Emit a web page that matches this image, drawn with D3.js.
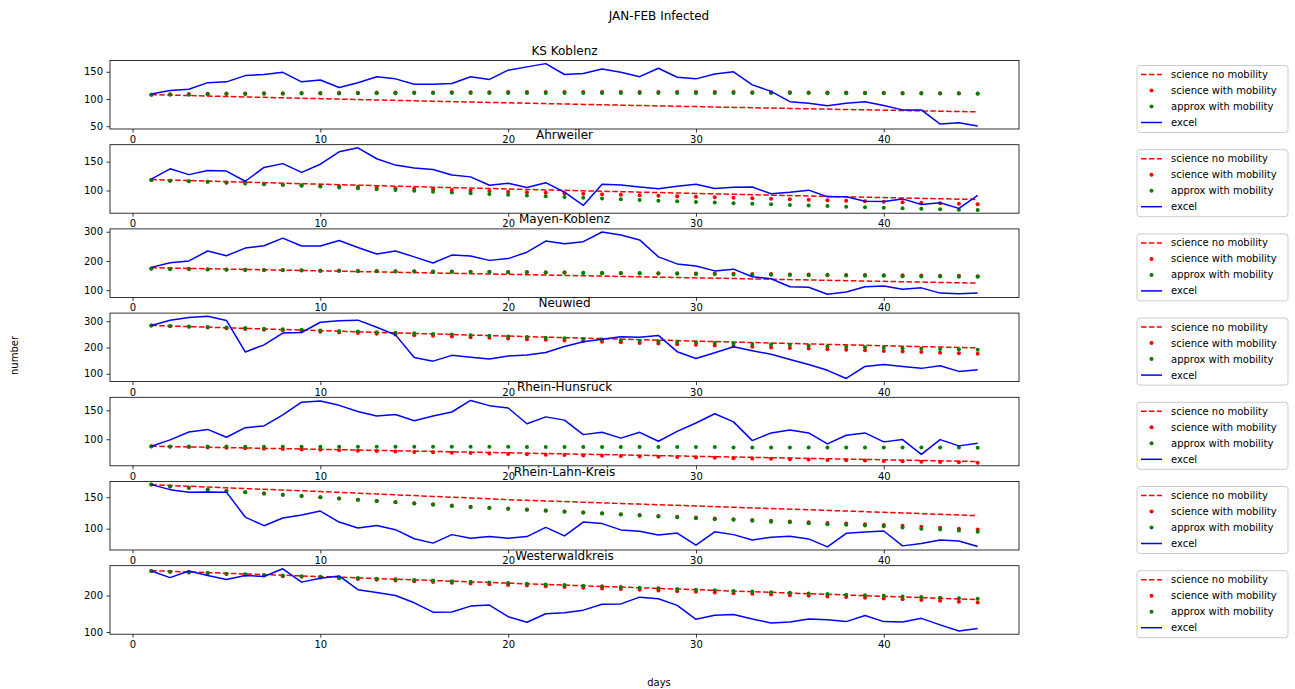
<!DOCTYPE html>
<html>
<head>
<meta charset="utf-8">
<script src="https://cdn.jsdelivr.net/npm/d3@7"></script>
<style>
  body { margin: 0; background: #fff; }
  svg text { font-family: "DejaVu Sans", sans-serif; fill: #000; }
</style>
</head>
<body>
<div id="chart"></div>
<script>
var config = {
  "width": 1295,
  "height": 689,
  "left": 110,
  "right": 1019,
  "firstTop": 60.5,
  "step": 84.2,
  "panelHeight": 68.5
}

const days = [1,2,3,4,5,6,7,8,9,10,11,12,13,14,15,16,17,18,19,20,21,22,23,24,25,26,27,28,29,30,31,32,33,34,35,36,37,38,39,40,41,42,43,44,45];
const xTicks = [0, 10, 20, 30, 40];
const seriesNames = ["science no mobility", "science with mobility", "approx with mobility", "excel"];

// KS Koblenz
const koblenzNoMob = [108,107.2,106.3,105.5,104.6,103.8,103,102.2,101.4,100.6,99.8,99,98.2,97.5,96.7,96,95.2,94.5,93.7,93,92.3,91.5,90.8,90.1,89.4,88.7,88,87.3,86.6,86,85.3,84.6,84,83.3,82.7,82,81.4,80.7,80.1,79.5,78.9,78.2,77.6,77,76.4];
const koblenzSciMob = [108,108.5,109,109.5,110,110,110.5,110.5,111,111,111.5,111.5,112,112,112,112,112.5,112.5,112.5,113,113,113,113,113,113,113,113,113,113,113,113,113,112.5,112.5,112.5,112,112,112,111.5,111.5,111,111,110.5,110.5,110];
const koblenzApprox = [108,108,108,108.5,109,109,109.5,109.5,110,110,110,110.5,110.5,110.5,111,111,111,111,111,111,111,111,111,111,111,111,111,111,111,111,111,111,111,111,111,111,110.5,110.5,110.5,110.5,110,110,110,110,109.5];
const koblenzExcel = [109,115.5,118,130,131.5,143,145,149,131.5,135,121,130,141,137,127,127,128.5,141,136,153,159,165,145,147,155,149,141,156.5,140,137,146,150,126,114,95,92,87.5,92,95,88,80,80,54,56.5,50.6];
const koblenzTicks = [50, 100, 150];

// Ahrweiler
const ahrNoMob = [119,118.1,117.2,116.3,115.4,114.5,113.6,112.7,111.8,111,110.1,109.2,108.4,107.5,106.7,105.8,105,104.2,103.4,102.6,101.8,101,100.2,99.4,98.7,97.9,97.1,96.4,95.6,94.9,94.1,93.4,92.7,91.9,91.2,90.5,89.8,89.1,88.4,87.7,87,86.3,85.7,85,84.3];
const ahrSciMob = [118,117,116,115,114,112.8,111.6,110.4,109.2,108,107,106,105,104,103,102,101,100,99,98,97.1,96.2,95.3,94.4,93.5,92.6,91.7,90.8,89.9,89,88.2,87.4,86.6,85.8,85,84.1,83.2,82.3,81.4,80.5,79.6,78.7,77.8,76.9,76];
const ahrApprox = [118,117,116,115,113.5,112,110.7,109.4,108,106.7,105.2,103.7,102.2,100.8,99.4,98,96.7,95.4,94,92.7,91.3,90,88.6,87.3,86,84.8,83.6,82.4,81.2,80,79,78,77,76,75,74,73,72,71,70,69.2,68.4,67.6,66.8,66];
const ahrExcel = [119.7,137.6,127.5,134.8,133.7,116,140,146.6,131.5,145.5,167,174,155,144,139,136.5,127,123.6,109,112.4,105,113.5,97,74,111,109.5,106,103,107.3,110.7,103.4,105.6,106,94.4,97,100.6,89,89,81.5,81,85.4,75.8,78.6,69,91.6];
const ahrTicks = [100, 150];

// Mayen-Koblenz
const mayenNoMob = [177,175.8,174.6,173.4,172.2,171,169.8,168.6,167.4,166.2,165,163.8,162.6,161.4,160.2,159,157.8,156.6,155.4,154.2,153,151.8,150.6,149.4,148.2,147,145.8,144.6,143.4,142.2,141,139.8,138.6,137.4,136.2,135,133.8,132.6,131.4,130.2,129,127.8,126.6,125.4,124.2];
const mayenSciMob = [174,173,173,172,171,170,169,169,168,167,167,166,166,165,165,164,164,163,163,162,162,161,161,160,160,159,159,158,158,157,157,156,155,155,154,154,153,152,152,151,151,150,149,149,148];
const mayenApprox = [173,172,172,171,170,169,168,168,167,166,166,165,165,164,164,163,163,162,162,161,161,160,160,159,158,158,157,157,156,155,155,154,153,153,152,151,151,150,149,149,148,147,147,146,146];
const mayenExcel = [178,194,200,234,218,244,252,278,251,251,270,246,224,234,214,193,220,217,202,208,230,268,259,266,299,289,272,214,190,183,166,172,146,139,112,110,86,94,112,114,103,108,90,88,90];
const mayenTicks = [100, 200, 300];

// Neuwied
const neuwiedNoMob = [284,281.8,279.5,277.3,275,272.8,270.6,268.4,266.2,264,261.9,259.8,257.7,255.6,253.5,251.5,249.4,247.4,245.4,243.4,241.4,239.5,237.5,235.6,233.7,231.8,229.9,228,226.2,224.3,222.5,220.7,218.9,217.1,215.3,213.6,211.8,210.1,208.4,206.7,205,203.3,201.7,200,198.4];
const neuwiedSciMob = [284,281,278.5,276,273,270.4,267.8,265.2,262.6,260,257.4,254.8,252.2,249.6,247,244.4,241.8,239.2,236.6,234,231.6,229.2,226.8,224.4,222,219.6,217.2,214.8,212.4,210,207.6,205.2,202.8,200.4,198,195.8,193.6,191.4,189.2,187,184.8,182.6,180.4,178.2,176];
const neuwiedApprox = [284,282,280,278,276,273.8,271.6,269.4,267.2,265,262.8,260.6,258.4,256.2,254,251.6,249.2,246.8,244.4,242,239.6,237.2,234.8,232.4,230,227.8,225.6,223.4,221.2,219,217,215,213,211,209,207,205,203,201,199,197.4,195.8,194.2,192.6,191];
const neuwiedExcel = [284,304,314,319,303,183,210,255,257,296,302,304,277,248,161.5,148,170,163,156.5,168,171,181,204,222,231,241,238.5,246,184,158,180,202.5,187.6,174,154,135,113,82,128,135,128,120.5,130.4,109,115.5];
const neuwiedTicks = [100, 200, 300];

// Rhein-Hunsrück
const hunsNoMob = [88,87.4,86.8,86.2,85.6,85,84.4,83.8,83.2,82.6,82,81.4,80.8,80.2,79.6,79,78.4,77.8,77.2,76.6,76,75.4,74.8,74.2,73.6,73,72.4,71.8,71.2,70.6,70,69.4,68.8,68.2,67.6,67,66.4,65.8,65.2,64.6,64,63.4,62.8,62.2,61.6];
const hunsSciMob = [88,87.3,86.6,85.9,85.2,84.5,83.8,83.1,82.4,81.7,81,80.3,79.6,78.9,78.2,77.5,76.8,76.1,75.4,74.7,74,73.4,72.8,72.2,71.6,71,70.4,69.8,69.2,68.6,68,67.4,66.8,66.2,65.6,65,64.4,63.8,63.2,62.6,62,61.4,60.8,60.2,59.6];
const hunsApprox = [87.5,87.5,87.5,87.5,87.5,87,87,87,87,87,87,87,87,87,87,87,87,87,87,87,86.5,86.5,86.5,86.5,86.5,86.5,86.5,86.5,86.5,86.5,86.5,86,86,86,86,86,86,86,86,86,86,86,86,86,85.5];
const hunsExcel = [88,99,112.5,117,103.4,120,123,142,164,166,158.5,148,140,142.6,132,140,147,167,158,154,126.7,138.6,133,108,112,102,112,96.6,113.6,128,144,130,97.7,111,116,111,92,107,111,95.5,99.4,74,99.4,88.6,93];
const hunsTicks = [100, 150];

// Rhein-Lahn-Kreis
const lahnNoMob = [170,168.7,167.4,166.1,164.9,163.7,162.5,161.3,160.1,159,157.7,156.4,155.1,153.8,152.5,151.2,150,148.8,147.4,146,145,144,143,142,141,140,139,138,137,136,135,134,133,132,131,130,129,128,127,126,125,123.9,122.8,121.7,120.6];
const lahnSciMob = [170,167,165,162,160,158,156,154,152,150,148,146,144,142.2,140.4,138.6,136.8,135,133.4,131.8,130.3,128.8,127.3,125.8,124.4,123,121.6,120.2,118.9,117.6,116.3,115,113.8,112.6,111.4,110.2,109.1,108,106.9,105.8,104.5,103.2,101.5,100,98.5];
const lahnApprox = [170,167,165,162,160,158,156,154,152,150,148,146,144,142,140,138,136,134.5,133,131.5,130,128.5,127,125.5,124,122.5,121,119.5,118,116.5,115,114,112.5,111,110,108.5,107,106,105,104,102,100,98.5,97,95];
const lahnExcel = [170,162,158,158.4,158,118.4,104.7,117,121.6,128,110.5,101,105,98.4,84,77,90.5,84.7,87.4,84.7,87.4,102,88.4,110.5,108,98,96,90,93,73.7,95,90.5,82,86.3,88,83.7,71,92.6,94.7,96.3,72.6,76.3,82,80.5,71.6];
const lahnTicks = [100, 150];

// Westerwaldkreis
const westNoMob = [268,266.2,264.4,262.6,260.8,259,257.2,255.4,253.6,251.8,250,248.2,246.4,244.6,242.8,241,239.2,237.4,235.6,233.8,232,230.2,228.4,226.6,224.8,223,221.2,219.4,217.6,215.8,214,212.2,210.4,208.6,206.8,205,203.2,201.4,199.6,197.8,196,194.2,192.4,190.6,188.8];
const westSciMob = [267,265,263,261,259,257,255,253,251,249,247,245,243,241,239,237,235,233,231,229,227.1,225.2,223.3,221.4,219.5,217.6,215.7,213.8,211.9,210,208.2,206.4,204.6,202.8,201,199.2,197.4,195.6,193.8,192,189.8,187.6,185.4,183.2,181];
const westApprox = [267,265.2,263.4,261.6,259.8,258,256.2,254.4,252.6,251,249.3,247.6,245.9,244.2,242.5,240.8,239.1,237.4,235.7,234,232.2,230.4,228.6,226.8,225,223.2,221.4,219.6,217.8,216,214.3,212.6,210.9,209.2,207.5,205.8,204.1,202.4,200.7,199,197.4,195.8,194.2,192.6,191];
const westExcel = [267,249,267,255,244,255,252,273,236.6,247,253.6,216,208,200,180,154.5,155,171,174,142,127,150,152.7,160,176,177,195.5,191,173,135,146,148,135.7,125,127.7,135.7,134,128.6,145.5,128.6,127.7,137.5,119.6,102.7,110];
const westTicks = [100, 200];

const panels = [
  {name: "KS Koblenz", noMob: koblenzNoMob, sciMob: koblenzSciMob, approx: koblenzApprox, excel: koblenzExcel, ticks: koblenzTicks},
  {name: "Ahrweiler", noMob: ahrNoMob, sciMob: ahrSciMob, approx: ahrApprox, excel: ahrExcel, ticks: ahrTicks},
  {name: "Mayen-Koblenz", noMob: mayenNoMob, sciMob: mayenSciMob, approx: mayenApprox, excel: mayenExcel, ticks: mayenTicks},
  {name: "Neuwied", noMob: neuwiedNoMob, sciMob: neuwiedSciMob, approx: neuwiedApprox, excel: neuwiedExcel, ticks: neuwiedTicks},
  {name: "Rhein-Hunsrück", noMob: hunsNoMob, sciMob: hunsSciMob, approx: hunsApprox, excel: hunsExcel, ticks: hunsTicks},
  {name: "Rhein-Lahn-Kreis", noMob: lahnNoMob, sciMob: lahnSciMob, approx: lahnApprox, excel: lahnExcel, ticks: lahnTicks},
  {name: "Westerwaldkreis", noMob: westNoMob, sciMob: westSciMob, approx: westApprox, excel: westExcel, ticks: westTicks}
];

window.addEventListener("DOMContentLoaded", main);

function main() {
  const svg = d3.select("#chart")
    .append("svg")
    .attr("width", config.width)
    .attr("height", config.height);

  svg.append("rect")
    .attr("width", config.width)
    .attr("height", config.height)
    .style("fill", "#fff");

  // matplotlib style 5% margins on x
  const xPad = (d3.max(days) - d3.min(days)) * 0.05;
  const x = d3.scaleLinear()
    .domain([d3.min(days) - xPad, d3.max(days) + xPad])
    .range([config.left, config.right]);

  panels.forEach((p, i) => drawPanel(svg, p, i, x));

  svg.append("text")
    .attr("x", 659)
    .attr("y", 19.5)
    .attr("text-anchor", "middle")
    .style("font-size", "12px")
    .text("JAN-FEB Infected");

  svg.append("text")
    .attr("x", 659)
    .attr("y", 686)
    .attr("text-anchor", "middle")
    .style("font-size", "10px")
    .text("days");

  svg.append("text")
    .attr("transform", "translate(17.5,355.5) rotate(-90)")
    .attr("text-anchor", "middle")
    .style("font-size", "10px")
    .text("number");
}

function drawPanel(svg, p, i, x) {
  const top = config.firstTop + i * config.step;
  const bottom = top + config.panelHeight;

  // y extent over all four series, padded 5%
  const all = p.noMob.concat(p.sciMob, p.approx, p.excel);
  const ext = d3.extent(all);
  const pad = (ext[1] - ext[0]) * 0.05;
  const y = d3.scaleLinear()
    .domain([ext[0] - pad, ext[1] + pad])
    .range([bottom, top]);

  const g = svg.append("g");

  // axes
  const yAxis = g.append("g")
    .attr("transform", "translate(" + config.left + ",0)")
    .call(d3.axisLeft(y).tickValues(p.ticks).tickSize(3.5).tickPadding(3.5).tickSizeOuter(0));
  const xAxis = g.append("g")
    .attr("transform", "translate(0," + bottom + ")")
    .call(d3.axisBottom(x).tickValues(xTicks).tickSize(3.5).tickPadding(3.5).tickSizeOuter(0));
  [yAxis, xAxis].forEach(a => {
    a.select(".domain").remove();
    a.selectAll("line").style("stroke", "#000").style("stroke-width", "0.8px");
    a.selectAll("text").style("font-size", "10px").style("font-family", "DejaVu Sans").style("fill", "#000");
  });

  const line = (vals) => d3.line()
    .x((d, k) => x(days[k]))
    .y(d => y(d))(vals);

  // science no mobility
  g.append("path")
    .attr("d", line(p.noMob))
    .style("fill", "none")
    .style("stroke", "#ff0000")
    .style("stroke-width", "1.5px")
    .style("stroke-dasharray", "5.55,2.4");

  // science with mobility
  g.append("g").selectAll("circle")
    .data(p.sciMob)
    .enter()
    .append("circle")
    .attr("cx", (d, k) => x(days[k]))
    .attr("cy", d => y(d))
    .attr("r", 2)
    .style("fill", "#ff0000");

  // approx with mobility
  g.append("g").selectAll("circle")
    .data(p.approx)
    .enter()
    .append("circle")
    .attr("cx", (d, k) => x(days[k]))
    .attr("cy", d => y(d))
    .attr("r", 2)
    .style("fill", "#008000");

  // excel
  g.append("path")
    .attr("d", line(p.excel))
    .style("fill", "none")
    .style("stroke", "#0000ff")
    .style("stroke-width", "1.5px")
    .style("stroke-linejoin", "round");

  // frame
  g.append("rect")
    .attr("x", config.left)
    .attr("y", top)
    .attr("width", config.right - config.left)
    .attr("height", config.panelHeight)
    .style("fill", "none")
    .style("stroke", "#000")
    .style("stroke-width", "0.8px");

  // title
  g.append("text")
    .attr("x", (config.left + config.right) / 2)
    .attr("y", top - 6)
    .attr("text-anchor", "middle")
    .style("font-size", "12px")
    .text(p.name);

  drawLegend(svg, top + 5);
}

function drawLegend(svg, top) {
  const lx = 1137;
  const lg = svg.append("g");
  lg.append("rect")
    .attr("x", lx)
    .attr("y", top)
    .attr("width", 151)
    .attr("height", 67)
    .attr("rx", 3)
    .style("fill", "#fff")
    .style("fill-opacity", 0.8)
    .style("stroke", "#cccccc")
    .style("stroke-width", "1px");

  seriesNames.forEach((name, k) => {
    const cy = top + 9 + k * 16;
    if (k == 0) {
      lg.append("line")
        .attr("x1", lx + 4).attr("x2", lx + 25)
        .attr("y1", cy).attr("y2", cy)
        .style("stroke", "#ff0000").style("stroke-width", "1.5px")
        .style("stroke-dasharray", "5.55,2.4");
    } else if (k == 3) {
      lg.append("line")
        .attr("x1", lx + 4).attr("x2", lx + 25)
        .attr("y1", cy).attr("y2", cy)
        .style("stroke", "#0000ff").style("stroke-width", "1.5px");
    } else {
      lg.append("circle")
        .attr("cx", lx + 14.5).attr("cy", cy).attr("r", 2)
        .style("fill", k == 1 ? "#ff0000" : "#008000");
    }
    lg.append("text")
      .attr("x", lx + 34)
      .attr("y", cy)
      .attr("dy", "0.35em")
      .style("font-size", "10px")
      .text(name);
  });
}
</script>
</body>
</html>
